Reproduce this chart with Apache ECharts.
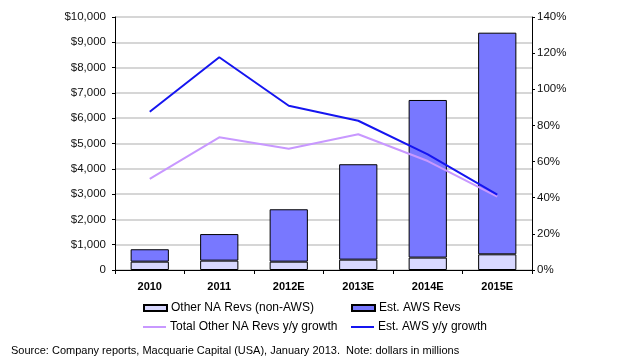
<!DOCTYPE html>
<html>
<head>
<meta charset="utf-8">
<script src="https://cdn.jsdelivr.net/npm/echarts@6/dist/echarts.min.js"></script>
<style>html,body{margin:0;padding:0;background:#fff;}#c{width:619px;height:361px;}</style>
</head>
<body>
<div id="c"></div>
<script>
var categories = ['2010', '2011', '2012E', '2013E', '2014E', '2015E'];
var otherRevs = [330, 370, 330, 410, 490, 620];
var awsRevs = [490, 1050, 2070, 3770, 6230, 8760];
var otherGrowth = [50.4, 73.4, 67.1, 75.1, 60.3, 40.6];
var awsGrowth = [87.6, 117.7, 90.9, 82.6, 64.0, 41.7];
var leftTicks = [0, 10000, 1000];
var rightTicks = [0, 140, 20];

var font = 'Liberation Sans, Arial, sans-serif';
var chart = echarts.init(document.getElementById('c'), null, {renderer: 'canvas'});
function legendFor(name, left, top, isLine) {
  return {
    data: [{name: name, icon: 'rect'}], left: left, top: top, itemWidth: 23, itemHeight: isLine ? 2 : 6, itemGap: 4,
    padding: 0, selectedMode: false,
    textStyle: {fontFamily: font, fontSize: 12, color: '#000', padding: [0, 0, 0, -1]}
  };
}
chart.setOption({
  animation: false,
  textStyle: {fontFamily: font},
  grid: {left: 115, right: 87, top: 17, bottom: 91},
  legend: [
    legendFor('Other NA Revs (non-AWS)', 143, 302, false),
    legendFor('Est. AWS Revs', 351, 302, false),
    legendFor('Total Other NA Revs y/y growth', 143, 321, true),
    legendFor('Est. AWS y/y growth', 351, 321, true)
  ],
  xAxis: {
    type: 'category', data: categories, boundaryGap: true,
    axisLine: {lineStyle: {color: '#000', width: 1}},
    axisTick: {show: true, length: 4, inside: false, lineStyle: {color: '#000'}},
    axisLabel: {color: '#000', fontSize: 11, fontWeight: 'bold', margin: 11, fontFamily: font}
  },
  yAxis: [{
    type: 'value', min: leftTicks[0], max: leftTicks[1], interval: leftTicks[2],
    axisLine: {show: true, lineStyle: {color: '#000', width: 1}},
    axisTick: {show: true, length: 3, lineStyle: {color: '#000'}},
    splitLine: {show: true, lineStyle: {color: '#c8c8c8', width: 1.5}},
    axisLabel: {color: '#111', fontSize: 11.5, margin: 9, fontFamily: font,
      formatter: function (v) { return v === 0 ? '0' : '$' + v.toLocaleString('en-US'); }}
  }, {
    type: 'value', min: rightTicks[0], max: rightTicks[1], interval: rightTicks[2], position: 'right',
    axisLine: {show: true, lineStyle: {color: '#000', width: 1}},
    axisTick: {show: true, length: 3, lineStyle: {color: '#000'}},
    splitLine: {show: false},
    axisLabel: {color: '#111', fontSize: 11.5, margin: 5, fontFamily: font,
      formatter: function (v) { return v + '%'; }}
  }],
  series: [{
    name: 'Other NA Revs (non-AWS)', type: 'bar', stack: 'revs', data: otherRevs, barWidth: '55%',
    itemStyle: {color: '#d8d8ff', borderColor: '#000', borderWidth: 1}
  }, {
    name: 'Est. AWS Revs', type: 'bar', stack: 'revs', data: awsRevs, barWidth: '55%',
    itemStyle: {color: '#7878ff', borderColor: '#000', borderWidth: 1}
  }, {
    name: 'Total Other NA Revs y/y growth', type: 'line', yAxisIndex: 1, data: otherGrowth,
    symbol: 'none', lineStyle: {color: '#c898ff', width: 2}, itemStyle: {color: '#c898ff'}
  }, {
    name: 'Est. AWS y/y growth', type: 'line', yAxisIndex: 1, data: awsGrowth,
    symbol: 'none', lineStyle: {color: '#1515f0', width: 2}, itemStyle: {color: '#1515f0'}
  }],
  graphic: [{
    type: 'text', left: 11, top: 345,
    style: {text: 'Source: Company reports, Macquarie Capital (USA), January 2013.  Note: dollars in millions',
      fontFamily: font, fontSize: 11, fill: '#000'}
  }]
});
</script>
</body>
</html>
